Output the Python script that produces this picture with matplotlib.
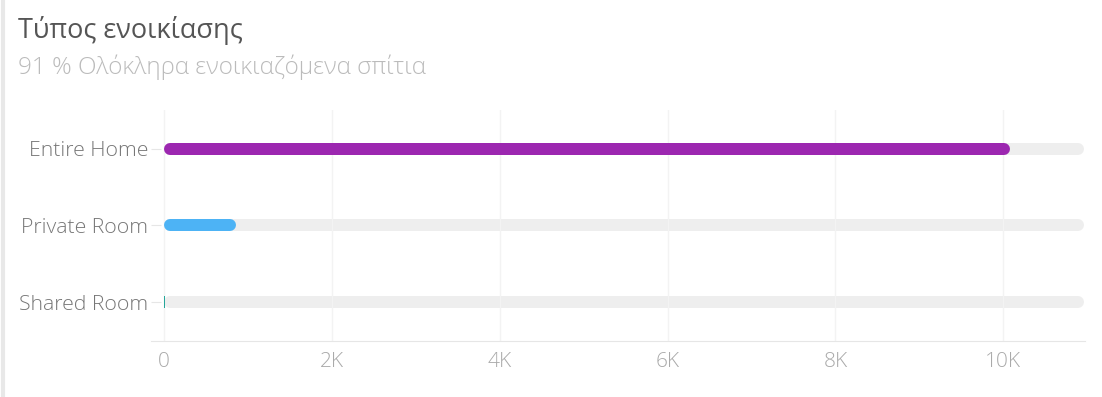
import matplotlib.pyplot as plt
from matplotlib.ticker import FuncFormatter
from matplotlib.lines import Line2D

plt.rcParams['font.family'] = ['Open Sans', 'DejaVu Sans']

# Data
categories = ["Entire Home", "Private Room", "Shared Room"]
counts = [10080, 860, 15]
colors = ["#9c27b0", "#4db3f5", "#26a69a"]
title = "Τύπος ενοικίασης"
subtitle = "91 % Ολόκληρα ενοικιαζόμενα σπίτια"
xticks = [0, 2000, 4000, 6000, 8000, 10000]

fig = plt.figure(figsize=(11.02, 3.97), dpi=100)
ax = fig.add_axes([0.137, 0.142, 0.848, 0.58])
x_min, x_max = -155, 10980
ax.set_xlim(x_min, x_max)
ax.set_ylim(2.5, -0.5)

# bar thickness in pixels -> points
bar_px = 12
lw = bar_px * 0.72
px_per_unit = ax.get_window_extent().width / (x_max - x_min)
r = (bar_px / 2) / px_per_unit  # cap radius in data units
track_end = x_max - 15

for i, (v, c) in enumerate(zip(counts, colors)):
    # background track
    ax.plot([r, track_end - r], [i, i], color="#eeeeee", lw=lw,
            solid_capstyle="round", zorder=1)
    if v > 2 * r:
        ax.plot([r, v - r], [i, i], color=c, lw=lw,
                solid_capstyle="round", zorder=2)
    else:
        ax.barh(i, v, height=bar_px / (ax.get_window_extent().height / 3),
                left=0, color=c, zorder=2)

ax.set_yticks(range(len(categories)))
ax.set_yticklabels(categories)
ax.set_xticks(xticks)
ax.xaxis.set_major_formatter(FuncFormatter(lambda x, p: "0" if x == 0 else f"{int(x / 1000)}K"))

ax.grid(axis="x", color="#f3f3f3", lw=1, zorder=0)
for s in ["top", "right", "left"]:
    ax.spines[s].set_visible(False)
ax.spines["bottom"].set_color("#e6e6e6")
ax.tick_params(axis="y", direction="in", length=7, color="#e6e6e6",
               labelsize=15.3, labelcolor="#777777", pad=2)
ax.tick_params(axis="x", length=0, labelsize=15, labelcolor="#aaaaaa", pad=8)
for lab in ax.get_yticklabels() + ax.get_xticklabels():
    lab.set_fontweight("light")

fig.text(0.016, 0.922, title, fontsize=19.5, color="#555555", va="center")
fig.text(0.016, 0.83, subtitle, fontsize=17.5, color="#bbbbbb",
         va="center", fontweight="light")

# card border on the left
fig.add_artist(Line2D([0.003, 0.003], [0, 1], color="#e8e8e8", lw=3,
                      transform=fig.transFigure))

fig.savefig("out.png", dpi=100, facecolor="white")
